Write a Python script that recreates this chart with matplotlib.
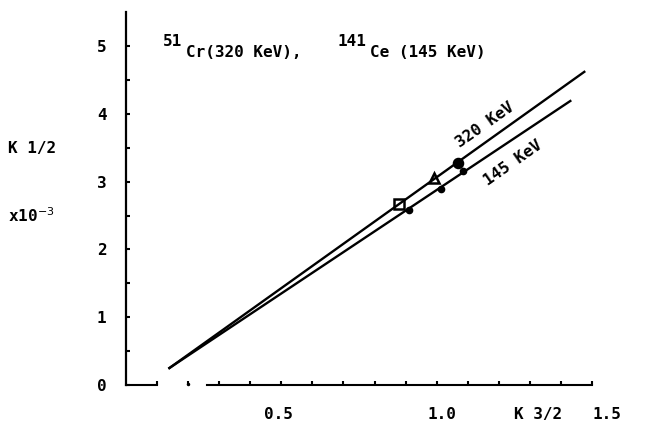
import matplotlib.pyplot as plt
import numpy as np

# fitted lines (end points)
line_320_x = [0.14, 1.475]
line_320_y = [0.25, 4.62]
line_145_x = [0.14, 1.43]
line_145_y = [0.25, 4.19]

# measured points
pts_320_x = [0.88, 0.99, 1.07]
pts_320_y = [2.67, 3.05, 3.27]
pts_320_mk = ['s', '^', 'o']
pts_320_fill = ['none', 'none', 'black']
pts_145_x = [0.91, 1.015, 1.085]
pts_145_y = [2.58, 2.89, 3.16]

yticks = [0, 1, 2, 3, 4, 5]
xtick_vals = [0.5, 1.0, 1.5]
xtick_labels = ['0.5', '1.0', '1.5']
xlab_dx = [-2, 4, 11]   # the typed labels sit a bit right of their ticks

mono = 'DejaVu Sans Mono'
fs = 11.5

fig = plt.figure(figsize=(6.66, 4.29), dpi=100)
ax = fig.add_axes([0.189, 0.1026, 0.77, 0.869])
ax.set_xlim(0, 1.65)
ax.set_ylim(0, 5.5)

for s in ['top', 'right', 'bottom']:
    ax.spines[s].set_visible(False)
ax.spines['left'].set_linewidth(1.6)

# broken x axis line like the original scan
ax.plot([0, 0.1], [0, 0], color='black', lw=1.5, clip_on=False)
ax.plot([0.26, 1.5], [0, 0], color='black', lw=1.5, clip_on=False)
ax.plot([0.2], [0.02], 'k.', ms=3, clip_on=False)

ax.plot(line_320_x, line_320_y, color='black', lw=1.7)
ax.plot(line_145_x, line_145_y, color='black', lw=1.7)

for x, y, m, f in zip(pts_320_x, pts_320_y, pts_320_mk, pts_320_fill):
    ax.plot(x, y, marker=m, ms=6.5, mfc=f, mec='black', mew=1.8, color='black')
ax.plot(pts_145_x, pts_145_y, 'o', ms=4.5, color='black', ls='none')

ax.set_yticks(yticks)
ax.set_yticks(np.arange(0.5, 5.5, 1.0), minor=True)
ax.set_yticklabels([str(v) for v in yticks], fontsize=fs, family=mono,
                   fontweight='bold')
ax.tick_params(axis='y', which='both', direction='in', length=3, width=1.5, pad=14)
ax.set_xticks(xtick_vals)
ax.set_xticks(np.arange(0.1, 1.55, 0.1), minor=True)
ax.set_xticklabels([])
ax.tick_params(axis='x', which='both', direction='in', length=3, width=1.5, bottom=True)
for v, lab, dx in zip(xtick_vals, xtick_labels, xlab_dx):
    ax.annotate(lab, (v, 0), xytext=(dx, -16), textcoords='offset points',
                ha='center', va='top', fontsize=fs, family=mono, fontweight='bold',
                annotation_clip=False)

fig.text(0.012, 0.655, 'K 1/2', fontsize=fs, family=mono, va='center',
         fontweight='bold')
fig.text(0.012, 0.497, r'x10$^{-3}$', fontsize=fs, family=mono, va='center',
         fontweight='bold')
ax.annotate('K 3/2', (1.325, 0), xytext=(0, -16), textcoords='offset points',
            ha='center', va='top', fontsize=fs, family=mono, fontweight='bold',
            annotation_clip=False)

# title, typed in pieces with raised mass numbers
ax.text(0.119, 5.07, '51', fontsize=fs, family=mono, va='center', fontweight='bold')
ax.text(0.193, 4.91, 'Cr(320 KeV),', fontsize=fs, family=mono, va='center',
        fontweight='bold')
ax.text(0.68, 5.07, '141', fontsize=fs, family=mono, va='center', fontweight='bold')
ax.text(0.785, 4.91, 'Ce (145 KeV)', fontsize=fs, family=mono, va='center',
        fontweight='bold')

ax.text(1.155, 3.84, '320 KeV', fontsize=fs, family=mono, rotation=35,
        ha='center', va='center', fontweight='bold')
ax.text(1.245, 3.28, '145 KeV', fontsize=fs, family=mono, rotation=35,
        ha='center', va='center', fontweight='bold')

fig.savefig('out.png', dpi=100)
